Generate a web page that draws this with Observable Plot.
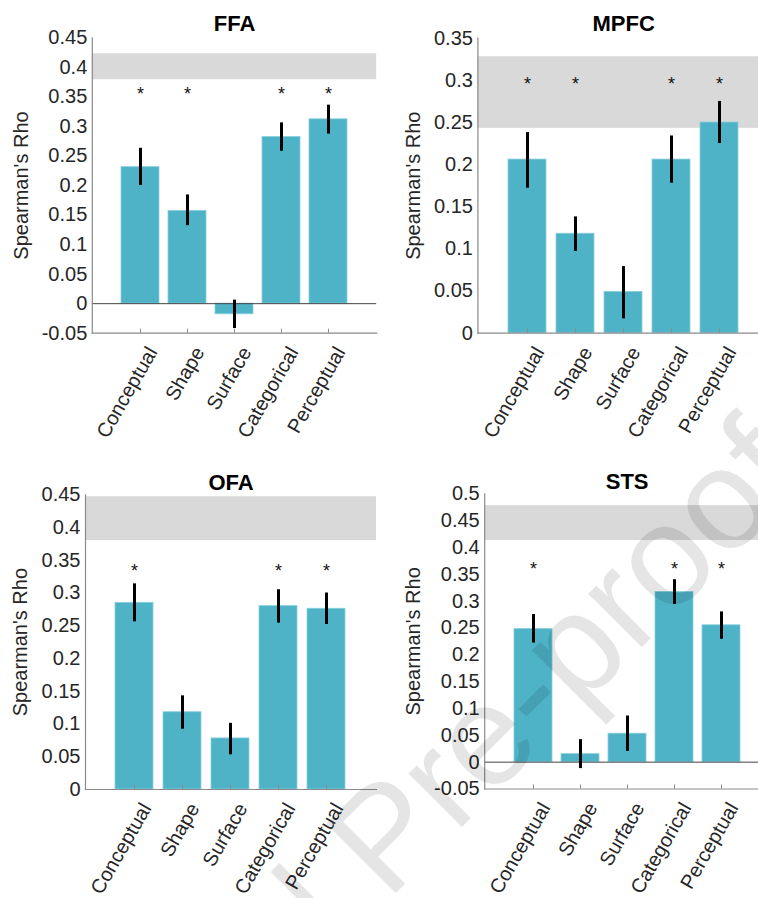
<!DOCTYPE html>
<html><head><meta charset="utf-8">
<script src="https://cdn.jsdelivr.net/npm/d3@7"></script>
<script src="https://cdn.jsdelivr.net/npm/@observablehq/plot@0.6"></script>
<style>
html,body{margin:0;padding:0;background:#fff;overflow:hidden;}
#wrap{position:relative;width:758px;height:898px;overflow:hidden;background:#fff;}
#wrap > svg{position:absolute;}
#wm{position:absolute;left:0;top:0;pointer-events:none;}
</style></head><body><div id="wrap"></div>
<script>
const categories = ["Conceptual", "Shape", "Surface", "Categorical", "Perceptual"];
const yLabel = "Spearman's Rho";

const ffaValues = [0.231, 0.157, -0.018, 0.282, 0.312];
const ffaLow    = [0.200, 0.132, -0.042, 0.258, 0.287];
const ffaHigh   = [0.263, 0.184, 0.006, 0.306, 0.336];
const ffaStars  = [true, true, false, true, true];
const ffaBand   = [0.379, 0.423];
const ffaStarLevel = 0.362;
const ffaTicks  = [-0.05, 0, 0.05, 0.1, 0.15, 0.2, 0.25, 0.3, 0.35, 0.4, 0.45];

const mpfcValues = [0.206, 0.118, 0.049, 0.206, 0.250];
const mpfcLow    = [0.172, 0.097, 0.017, 0.178, 0.225];
const mpfcHigh   = [0.238, 0.138, 0.079, 0.234, 0.275];
const mpfcStars  = [true, true, false, true, true];
const mpfcBand   = [0.243, 0.328];
const mpfcStarLevel = 0.300;
const mpfcTicks  = [0, 0.05, 0.1, 0.15, 0.2, 0.25, 0.3, 0.35];

const ofaValues = [0.285, 0.118, 0.078, 0.280, 0.276];
const ofaLow    = [0.256, 0.092, 0.053, 0.254, 0.252];
const ofaHigh   = [0.314, 0.143, 0.101, 0.305, 0.300];
const ofaStars  = [true, false, false, true, true];
const ofaBand   = [0.380, 0.447];
const ofaStarLevel = 0.340;
const ofaTicks  = [0, 0.05, 0.1, 0.15, 0.2, 0.25, 0.3, 0.35, 0.4, 0.45];

const stsValues = [0.248, 0.015, 0.053, 0.317, 0.255];
const stsLow    = [0.222, -0.012, 0.020, 0.294, 0.229];
const stsHigh   = [0.275, 0.042, 0.086, 0.340, 0.280];
const stsStars  = [true, false, false, true, true];
const stsBand   = [0.413, 0.478];
const stsStarLevel = 0.366;
const stsTicks  = [-0.05, 0, 0.05, 0.1, 0.15, 0.2, 0.25, 0.3, 0.35, 0.4, 0.45, 0.5];

const FONT = "'Liberation Sans', Arial, Helvetica, sans-serif";
const BAR = "#4fb3c8";
const AXIS = "#8a8a8a";
const TXT = "#262626";

function panel(title, values, low, high, stars, band, starLevel, ticks, box) {
  const rows = categories.map((c, i) => ({cat: c, value: values[i], lo: low[i], hi: high[i], star: stars[i], starY: starLevel}));
  const yDomain = [ticks[0], ticks[ticks.length - 1]];
  const frameH = box.height - box.mt - box.mb;
  const fmt = d => (Math.round(d * 100) / 100).toString();
  const marks = [
    Plot.rectY([band], {y1: d => d[0], y2: d => d[1], fill: "#d9d9d9"}),
    Plot.barY(rows, {x: "cat", y: "value", fill: BAR, stroke: "#86cfdd", strokeWidth: 0.8})
  ];
  if (yDomain[0] < 0) marks.push(Plot.ruleY([0], {stroke: "#444", strokeWidth: 1}));
  marks.push(
    Plot.ruleX(rows, {x: "cat", y1: "lo", y2: "hi", stroke: "#000", strokeWidth: 3}),
    Plot.text(rows.filter(d => d.star), {x: "cat", y: "starY", text: () => "*", fontSize: 18, dy: 4, fill: "#111"}),
    Plot.frame({anchor: "left", stroke: AXIS, strokeWidth: 1.2}),
    Plot.frame({anchor: "bottom", stroke: AXIS, strokeWidth: 1.2}),
    Plot.tickX(categories, {x: d => d, insetTop: frameH - 4, stroke: AXIS, strokeWidth: 1}),
    Plot.axisY(ticks, {tickSize: 0, tickPadding: 5, tickFormat: fmt, fontSize: 20, fill: TXT}),
    Plot.text(categories, {x: d => d, frameAnchor: "bottom", lineAnchor: "middle", rotate: -60, textAnchor: "end", dx: 12, dy: 15.5, fontSize: 20, fill: TXT}),
    Plot.text([title], {frameAnchor: "top", lineAnchor: "middle", textAnchor: "middle", dy: box.titleDy, fontSize: 22, fontWeight: "bold", fill: "#000"}),
    Plot.text([yLabel], {frameAnchor: "left", lineAnchor: "middle", textAnchor: "middle", rotate: -90, dx: box.labelDx, fontSize: 20, fill: TXT})
  );
  const svg = Plot.plot({
    width: box.width, height: box.height,
    marginLeft: box.ml, marginRight: box.mr, marginTop: box.mt, marginBottom: box.mb,
    style: {fontFamily: FONT, fontSize: "20px", color: TXT, background: "transparent", overflow: "visible"},
    x: {type: "band", domain: categories, paddingInner: 0.2, paddingOuter: 0.6, align: 0.5, axis: null},
    y: {domain: yDomain, axis: null},
    marks
  });
  svg.style.left = box.left + "px";
  svg.style.top = box.top + "px";
  document.getElementById("wrap").appendChild(svg);
}

panel("FFA", ffaValues, ffaLow, ffaHigh, ffaStars, ffaBand, ffaStarLevel, ffaTicks,
  {left: 0, top: 0, width: 379, height: 449, ml: 91.8, mr: 2.8, mt: 37.3, mb: 116.3, titleDy: -13.5, labelDx: -71});
panel("MPFC", mpfcValues, mpfcLow, mpfcHigh, mpfcStars, mpfcBand, mpfcStarLevel, mpfcTicks,
  {left: 379, top: 0, width: 393, height: 449, ml: 98.4, mr: 3, mt: 37.7, mb: 116.3, titleDy: -13.9, labelDx: -64.1});
panel("OFA", ofaValues, ofaLow, ofaHigh, ofaStars, ofaBand, ofaStarLevel, ofaTicks,
  {left: 0, top: 449, width: 379, height: 449, ml: 85, mr: 3, mt: 45.3, mb: 109, titleDy: -12.3, labelDx: -64.5});
panel("STS", stsValues, stsLow, stsHigh, stsStars, stsBand, stsStarLevel, stsTicks,
  {left: 379, top: 449, width: 393, height: 449, ml: 105.2, mr: 3, mt: 44.3, mb: 109.5, titleDy: -11.5, labelDx: -70.9});

// watermark overlay
const ns = "http://www.w3.org/2000/svg";
const wm = document.createElementNS(ns, "svg");
wm.setAttribute("id", "wm"); wm.setAttribute("width", 758); wm.setAttribute("height", 898);
const t = document.createElementNS(ns, "text");
t.setAttribute("x", 809); t.setAttribute("y", 480);
t.setAttribute("text-anchor", "end");
t.setAttribute("transform", "rotate(-45 809 480)");
t.setAttribute("font-family", FONT);
t.setAttribute("font-size", 143);
t.setAttribute("fill", "rgba(0,0,0,0.1)");
t.textContent = "Journal Pre-proof";
wm.appendChild(t);
document.getElementById("wrap").appendChild(wm);
</script></body></html>
